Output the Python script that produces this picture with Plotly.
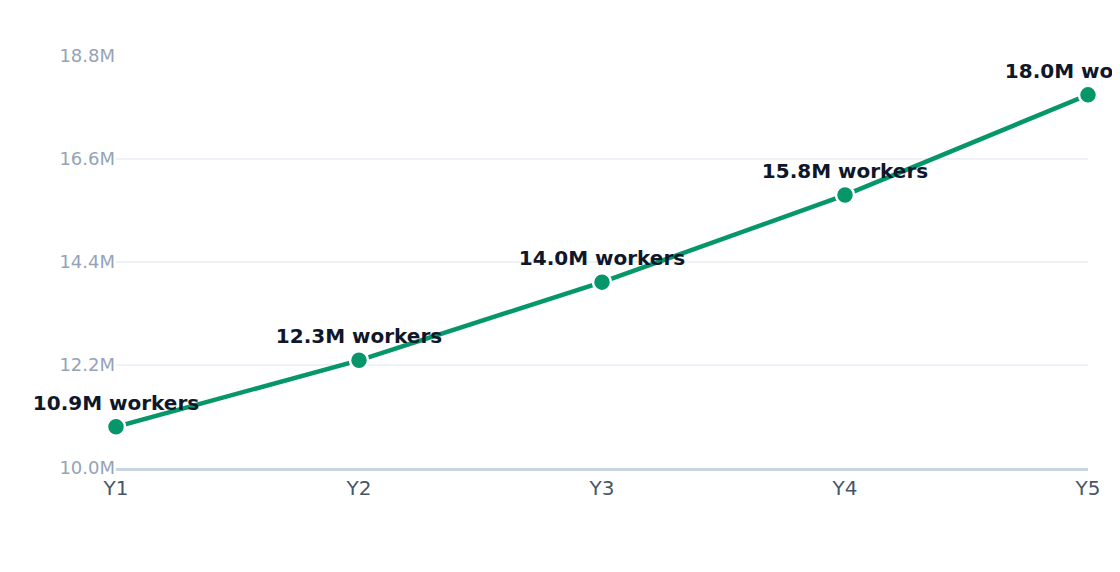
import plotly.graph_objects as go

years = ["Y1", "Y2", "Y3", "Y4", "Y5"]
workers_m = [10.88, 12.3, 13.97, 15.83, 17.97]
y_ticks = [10.0, 12.2, 14.4, 16.6, 18.8]

fig = go.Figure()
fig.add_trace(go.Scatter(
    x=years, y=workers_m,
    mode="lines+markers+text",
    line=dict(color="#059669", width=4.5),
    marker=dict(size=18, color="#059669", line=dict(color="white", width=2.5)),
    text=[f"<b>{v:.1f}M workers</b>" for v in workers_m],
    textposition="top center",
    textfont=dict(size=20, color="#0f172a"),
    cliponaxis=False,
    hoverinfo="skip",
))

fig.update_layout(
    width=1104, height=556,
    margin=dict(l=108, r=24, t=48, b=96),
    paper_bgcolor="white", plot_bgcolor="white",
    font=dict(family="DejaVu Sans, sans-serif"),
    showlegend=False,
)
fig.update_xaxes(
    range=[0, 4], showgrid=False, ticks="",
    showline=True, linecolor="#cbd5e1", linewidth=2.5,
    tickfont=dict(size=20, color="#475569"),
)
fig.update_yaxes(
    range=[10.0, 18.8], tickvals=y_ticks,
    ticktext=[f"{v:.1f}M" for v in y_ticks],
    gridcolor="#eef1f5", gridwidth=1.5, zeroline=False,
    tickfont=dict(size=18, color="#94a3b8"),
)

fig.write_html("out.html")
